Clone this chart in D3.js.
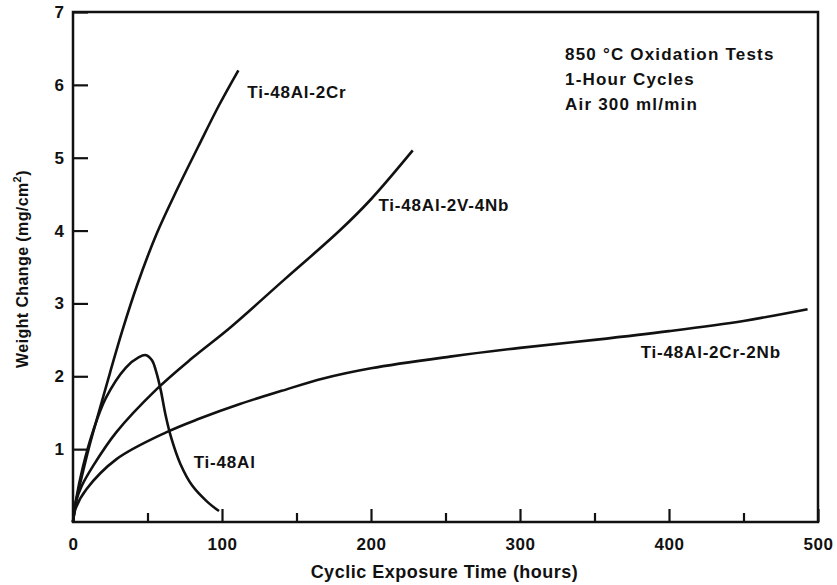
<!DOCTYPE html>
<html>
<head>
<meta charset="utf-8">
<script src="https://cdn.jsdelivr.net/npm/d3@7/dist/d3.min.js"></script>
<style>
  body { margin: 0; background: #fff; }
  text { font-family: "Liberation Sans", Arial, sans-serif; font-weight: bold; fill: #111; }
</style>
</head>
<body>
<div class="oxidation"></div>
<script>
// values: hours / weight change (mg/cm2)
var hoursCr    = [0, 2, 5.4, 10.7, 17.5, 25, 33, 43, 56, 70, 84, 98, 111];
var weightCr   = [0, 0.28, 0.58, 1.02, 1.52, 2.06, 2.62, 3.25, 3.95, 4.57, 5.15, 5.72, 6.2];

var hoursVNb   = [0, 2, 6, 13.5, 29, 56, 80, 105, 142, 179, 200, 228];
var weightVNb  = [0, 0.28, 0.5, 0.77, 1.23, 1.82, 2.25, 2.66, 3.33, 4.0, 4.43, 5.1];

var hoursAl    = [0, 2, 6.7, 13.5, 22, 35.5, 44, 49, 53, 56, 59, 62, 66, 72, 80, 90, 98];
var weightAl   = [0, 0.3, 0.76, 1.25, 1.7, 2.12, 2.26, 2.29, 2.22, 2.05, 1.8, 1.48, 1.15, 0.8, 0.5, 0.28, 0.15];

var hoursCrNb  = [0, 2, 9, 29, 62.5, 85, 112, 140, 168, 200, 253, 300, 350, 400, 450, 493];
var weightCrNb = [0, 0.2, 0.45, 0.86, 1.23, 1.42, 1.62, 1.8, 1.97, 2.11, 2.27, 2.39, 2.5, 2.62, 2.76, 2.92];

var alloyNames = ['Ti-48Al-2Cr', 'Ti-48Al-2V-4Nb', 'Ti-48Al', 'Ti-48Al-2Cr-2Nb'];
// where each name sits, in hours / mg/cm2
var labelHours  = [117, 205, 81, 381];
var labelWeight = [5.82, 4.27, 0.74, 2.25];

var xTicks = [0, 100, 200, 300, 400, 500];
var xMinorTicks = [50, 150, 250, 350, 450];
var yTicks = [1, 2, 3, 4, 5, 6, 7];
var noteLines = ['850 \u00b0C Oxidation Tests', '1-Hour Cycles', 'Air 300 ml/min'];

// set the dimensions and margins of the graph
var margin = {top: 12, right: 19, bottom: 63, left: 73},
  width = 837 - margin.left - margin.right,
  height = 585 - margin.top - margin.bottom;

var svg = d3.select(".oxidation")
.append("svg")
  .attr("width", width + margin.left + margin.right)
  .attr("height", height + margin.top + margin.bottom)
.append("g")
  .attr("transform", "translate(" + margin.left + "," + margin.top + ")");

var x = d3.scaleLinear().domain([0, 500]).range([0, width]);
var y = d3.scaleLinear().domain([0, 7]).range([height, 0]);

var series = [
  {name: alloyNames[0], h: hoursCr, w: weightCr},
  {name: alloyNames[1], h: hoursVNb, w: weightVNb},
  {name: alloyNames[2], h: hoursAl, w: weightAl},
  {name: alloyNames[3], h: hoursCrNb, w: weightCrNb}
];

var line = d3.line()
  .x(function(d) { return x(d[0]); })
  .y(function(d) { return y(d[1]); })
  .curve(d3.curveCatmullRom.alpha(0.5));

// frame around the plot
svg.append("rect")
  .attr("width", width)
  .attr("height", height)
  .style("fill", "none")
  .style("stroke", "#111")
  .style("stroke-width", 2.5);

// x axis, ticks point inward
var xAxis = svg.append("g")
  .attr("transform", "translate(0," + height + ")")
  .call(d3.axisBottom(x).tickValues(xTicks).tickFormat(d3.format("d")).tickSize(-13).tickPadding(16));
xAxis.selectAll("text").style("font-size", "17px").style("letter-spacing", "0.5px");

svg.append("g")
  .attr("transform", "translate(0," + height + ")")
  .call(d3.axisBottom(x).tickValues(xMinorTicks).tickFormat("").tickSize(-9));

// y axis
var yAxis = svg.append("g")
  .call(d3.axisLeft(y).tickValues(yTicks).tickFormat(d3.format("d")).tickSize(-15).tickPadding(9));
yAxis.selectAll("text").style("font-size", "17px");

svg.selectAll(".domain").remove();
svg.selectAll(".tick line").style("stroke", "#111").style("stroke-width", 2.2);
svg.selectAll(".tick text").style("fill", "#111").style("font-family", "Liberation Sans, Arial, sans-serif");

// curves
svg.selectAll("myPath")
  .data(series)
  .enter()
  .append("path")
    .attr("d", function(s) { return line(s.h.map(function(h, i) { return [h, s.w[i]]; })); })
    .style("fill", "none")
    .style("stroke", "#111")
    .style("stroke-width", 2.6);

// alloy names
svg.selectAll("myLabel")
  .data(alloyNames)
  .enter()
  .append("text")
    .attr("x", function(d, i) { return x(labelHours[i]); })
    .attr("y", function(d, i) { return y(labelWeight[i]); })
    .style("font-size", "17px")
    .style("letter-spacing", "0.8px")
    .text(function(d) { return d; });

// test conditions
svg.selectAll("myNote")
  .data(noteLines)
  .enter()
  .append("text")
    .attr("x", 492)
    .attr("y", function(d, i) { return 48 + i * 25; })
    .style("font-size", "17px")
    .style("letter-spacing", "1.2px")
    .text(function(d) { return d; });

// axis titles
svg.append("text")
  .attr("x", width / 2 - 1)
  .attr("y", height + 56)
  .style("text-anchor", "middle")
  .style("font-size", "18px")
  .style("letter-spacing", "0.5px")
  .text("Cyclic Exposure Time (hours)");

var yTitle = svg.append("text")
  .attr("transform", "translate(" + (-45) + "," + (height / 2 + 2) + ") rotate(-90)")
  .style("text-anchor", "middle")
  .style("font-size", "16px")
  .style("letter-spacing", "0.4px");
yTitle.append("tspan").text("Weight Change (mg/cm");
yTitle.append("tspan").attr("dy", -7).style("font-size", "11px").text("2");
yTitle.append("tspan").attr("dy", 7).text(")");
</script>
</body>
</html>
